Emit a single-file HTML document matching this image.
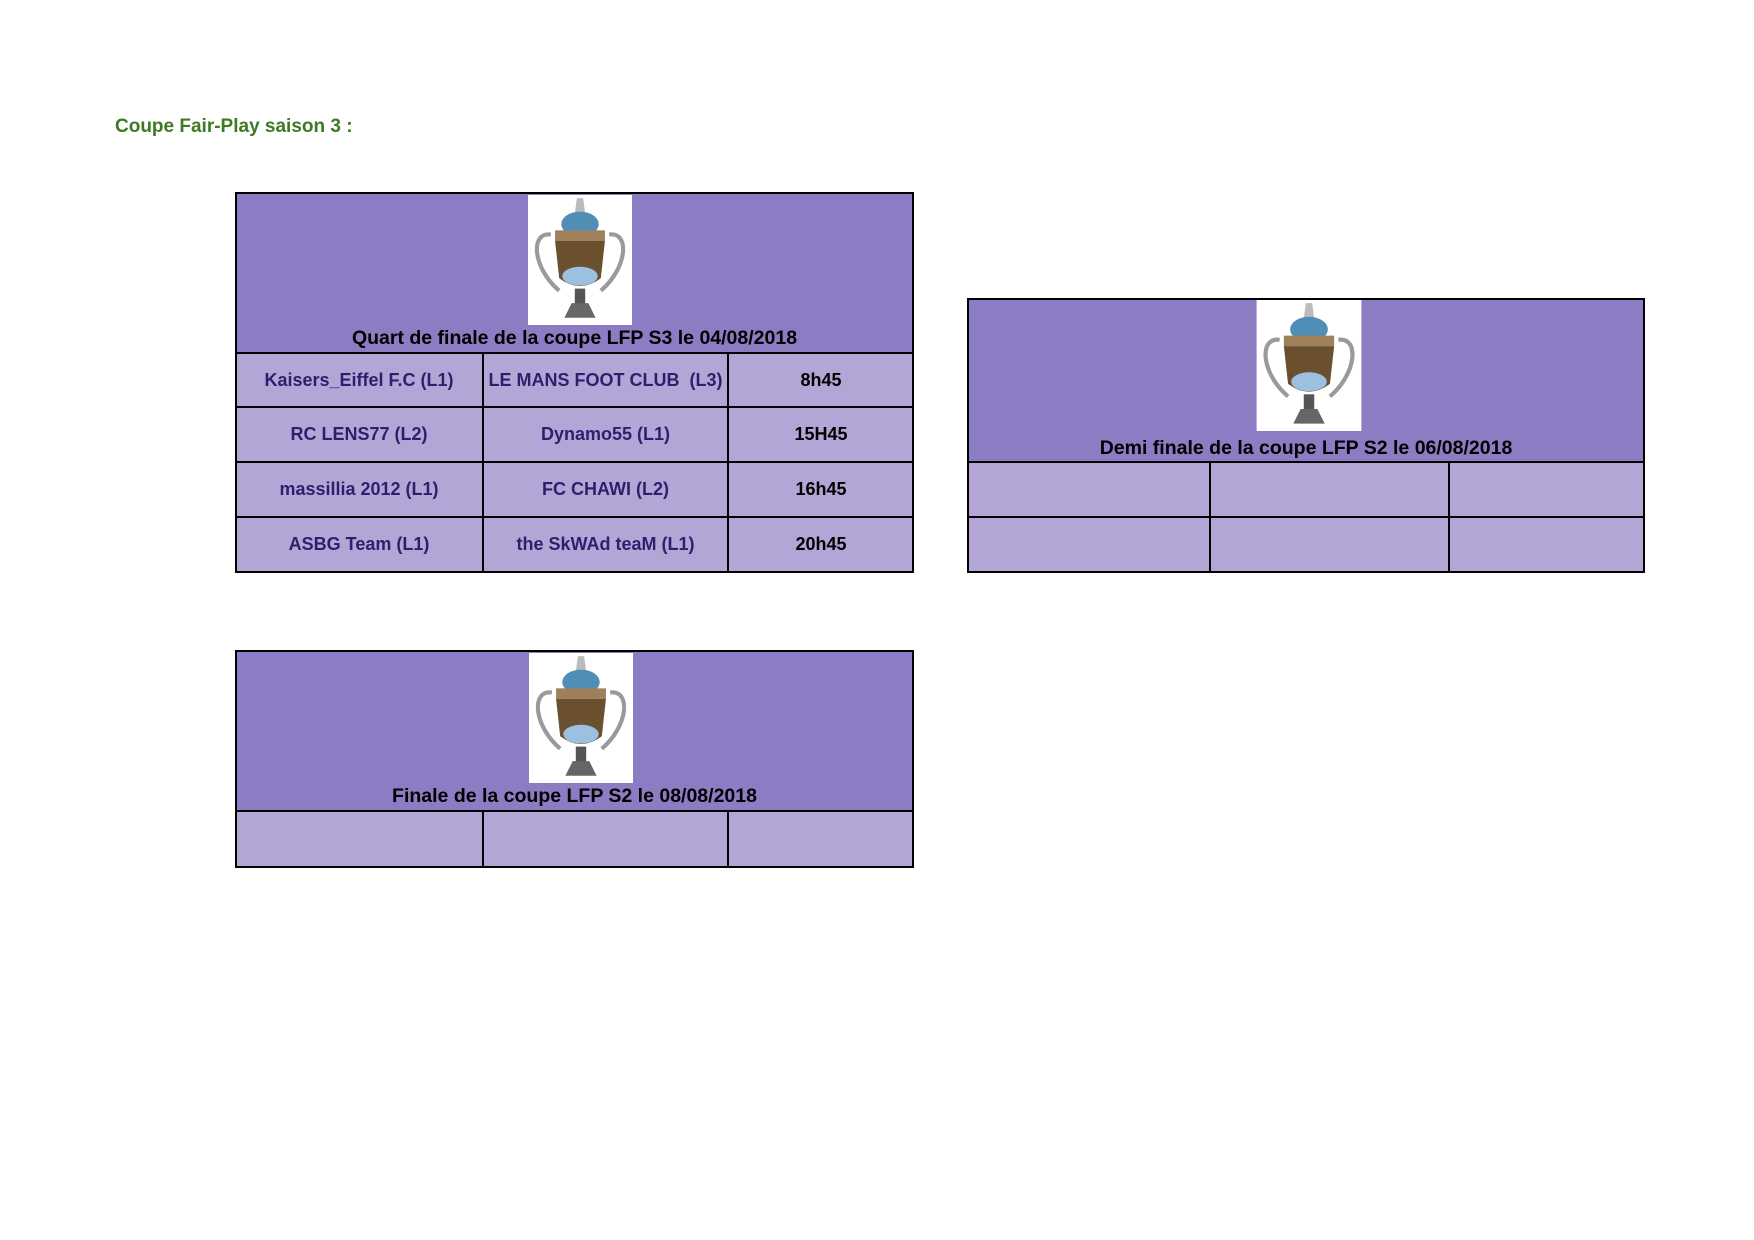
<!DOCTYPE html>
<html><head><meta charset="utf-8"><style>
body{margin:0;width:1754px;height:1240px;background:#fff;position:relative;font-family:"Liberation Sans",Arial,sans-serif;overflow:hidden}
.a{position:absolute}
.hd{background:#8b7cc3}
.rw{background:#b3a6d6}
.bx{position:absolute;border:2px solid #000;box-sizing:border-box}
.vl{position:absolute;width:2px;background:#000}
.hl{position:absolute;height:2px;background:#000}
.t{position:absolute;font-weight:bold;text-align:center;white-space:nowrap}
.cell{position:absolute;font-weight:bold;font-size:18px;color:#2e1f6e;text-align:center;white-space:nowrap;display:flex;align-items:center;justify-content:center}
.tm{color:#000}
</style></head><body>
<svg width="0" height="0" style="position:absolute">
<defs>
<symbol id="cup" viewBox="0 0 100 125">
<rect width="100" height="125" fill="#fff"/>
<path d="M22 38 C2 35 4 70 30 92" stroke="#9a9a9a" stroke-width="4" fill="none"/>
<path d="M78 38 C98 35 96 70 70 92" stroke="#9a9a9a" stroke-width="4" fill="none"/>
<path d="M47 3 L53 3 L55 18 L45 18Z" fill="#bbb"/>
<ellipse cx="50" cy="28" rx="18" ry="12" fill="#4f8fb5"/>
<rect x="26" y="34" width="48" height="10" fill="#a0805a"/>
<path d="M26 44 L74 44 L70 80 Q50 95 30 80Z" fill="#6b5030"/>
<ellipse cx="50" cy="78" rx="17" ry="9" fill="#9cc0e0"/>
<rect x="45" y="90" width="10" height="15" fill="#555"/>
<path d="M35 118 L65 118 L58 104 L42 104Z" fill="#666"/>
</symbol>
</defs></svg>

<div class="t" style="left:115px;top:116px;font-size:19px;color:#3d7a22">Coupe Fair-Play saison 3 :</div>

<!-- Quart -->
<div class="a hd" style="left:236px;top:193px;width:677px;height:161px"></div>
<div class="a rw" style="left:236px;top:354px;width:677px;height:218px"></div>
<svg class="a" style="left:528px;top:195px" width="104" height="130"><use href="#cup"/></svg>
<div class="t" style="left:236px;width:677px;top:327px;font-size:19.5px">Quart de finale de la coupe LFP S3 le 04/08/2018</div>
<div class="bx" style="left:235px;top:192px;width:679px;height:381px"></div>
<div class="hl" style="left:235px;top:352px;width:679px"></div>
<div class="hl" style="left:235px;top:406px;width:679px"></div>
<div class="hl" style="left:235px;top:461px;width:679px"></div>
<div class="hl" style="left:235px;top:516px;width:679px"></div>
<div class="vl" style="left:482px;top:352px;height:220px"></div>
<div class="vl" style="left:727px;top:352px;height:220px"></div>
<div class="cell" style="left:236px;width:246px;top:354px;height:52px">Kaisers_Eiffel F.C (L1)</div>
<div class="cell" style="left:484px;width:243px;top:354px;height:52px">LE MANS FOOT CLUB&nbsp; (L3)</div>
<div class="cell tm" style="left:729px;width:184px;top:354px;height:52px">8h45</div>
<div class="cell" style="left:236px;width:246px;top:408px;height:53px">RC LENS77 (L2)</div>
<div class="cell" style="left:484px;width:243px;top:408px;height:53px">Dynamo55 (L1)</div>
<div class="cell tm" style="left:729px;width:184px;top:408px;height:53px">15H45</div>
<div class="cell" style="left:236px;width:246px;top:463px;height:53px">massillia 2012 (L1)</div>
<div class="cell" style="left:484px;width:243px;top:463px;height:53px">FC CHAWI (L2)</div>
<div class="cell tm" style="left:729px;width:184px;top:463px;height:53px">16h45</div>
<div class="cell" style="left:236px;width:246px;top:518px;height:53px">ASBG Team (L1)</div>
<div class="cell" style="left:484px;width:243px;top:518px;height:53px">the SkWAd teaM (L1)</div>
<div class="cell tm" style="left:729px;width:184px;top:518px;height:53px">20h45</div>

<!-- Demi -->
<div class="a hd" style="left:968px;top:299px;width:676px;height:163px"></div>
<div class="a rw" style="left:968px;top:462px;width:676px;height:110px"></div>
<svg class="a" style="left:1256px;top:300px" width="106" height="131"><use href="#cup"/></svg>
<div class="t" style="left:968px;width:676px;top:437px;font-size:19.5px">Demi finale de la coupe LFP S2 le 06/08/2018</div>
<div class="bx" style="left:967px;top:298px;width:678px;height:275px"></div>
<div class="hl" style="left:967px;top:461px;width:678px"></div>
<div class="hl" style="left:967px;top:516px;width:678px"></div>
<div class="vl" style="left:1209px;top:461px;height:111px"></div>
<div class="vl" style="left:1448px;top:461px;height:111px"></div>

<!-- Finale -->
<div class="a hd" style="left:236px;top:651px;width:677px;height:160px"></div>
<div class="a rw" style="left:236px;top:811px;width:677px;height:56px"></div>
<svg class="a" style="left:528px;top:653px" width="106" height="130"><use href="#cup"/></svg>
<div class="t" style="left:236px;width:677px;top:785px;font-size:19.5px">Finale de la coupe LFP S2 le 08/08/2018</div>
<div class="bx" style="left:235px;top:650px;width:679px;height:218px"></div>
<div class="hl" style="left:235px;top:810px;width:679px"></div>
<div class="vl" style="left:482px;top:810px;height:57px"></div>
<div class="vl" style="left:727px;top:810px;height:57px"></div>
</body></html>
